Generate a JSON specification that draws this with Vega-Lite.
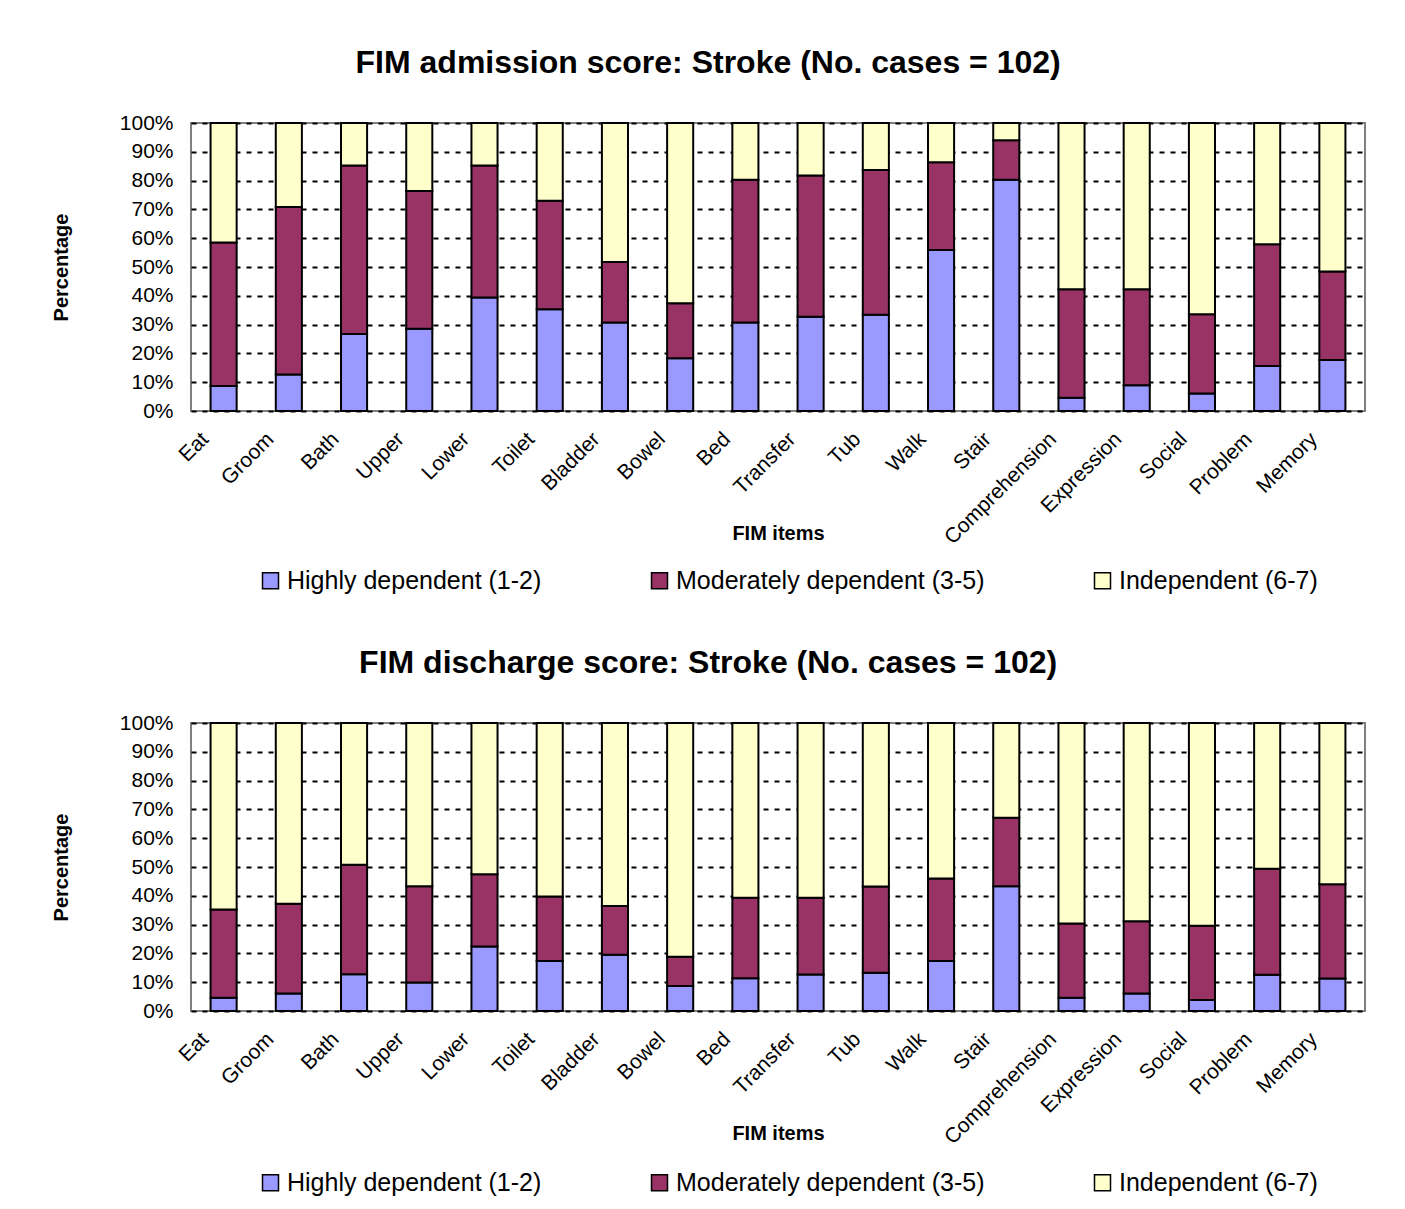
{
  "$schema": "https://vega.github.io/schema/vega-lite/v6.json",
  "background": "white",
  "padding": {"left": 50, "top": 46, "right": 30, "bottom": 5},
  "config": {
    "font": "Liberation Sans",
    "view": {"stroke": "#808080", "strokeWidth": 2},
    "axis": {"domain": false, "ticks": false, "labelColor": "black", "titleColor": "black", "labelFont": "Liberation Sans", "titleFont": "Liberation Sans"},
    "legend": {"labelFont": "Liberation Sans"},
    "title": {"font": "Liberation Sans", "color": "black"}
  },
  "data": {"values": [
    {"panel": "A", "item": "Eat", "cat": "Highly dependent (1-2)", "k": 1, "pct": 8.7},
    {"panel": "A", "item": "Eat", "cat": "Moderately dependent (3-5)", "k": 2, "pct": 49.8},
    {"panel": "A", "item": "Eat", "cat": "Independent (6-7)", "k": 3, "pct": 41.5},
    {"panel": "A", "item": "Groom", "cat": "Highly dependent (1-2)", "k": 1, "pct": 12.7},
    {"panel": "A", "item": "Groom", "cat": "Moderately dependent (3-5)", "k": 2, "pct": 58.1},
    {"panel": "A", "item": "Groom", "cat": "Independent (6-7)", "k": 3, "pct": 29.2},
    {"panel": "A", "item": "Bath", "cat": "Highly dependent (1-2)", "k": 1, "pct": 26.7},
    {"panel": "A", "item": "Bath", "cat": "Moderately dependent (3-5)", "k": 2, "pct": 58.5},
    {"panel": "A", "item": "Bath", "cat": "Independent (6-7)", "k": 3, "pct": 14.8},
    {"panel": "A", "item": "Upper", "cat": "Highly dependent (1-2)", "k": 1, "pct": 28.6},
    {"panel": "A", "item": "Upper", "cat": "Moderately dependent (3-5)", "k": 2, "pct": 47.8},
    {"panel": "A", "item": "Upper", "cat": "Independent (6-7)", "k": 3, "pct": 23.6},
    {"panel": "A", "item": "Lower", "cat": "Highly dependent (1-2)", "k": 1, "pct": 39.4},
    {"panel": "A", "item": "Lower", "cat": "Moderately dependent (3-5)", "k": 2, "pct": 45.8},
    {"panel": "A", "item": "Lower", "cat": "Independent (6-7)", "k": 3, "pct": 14.8},
    {"panel": "A", "item": "Toilet", "cat": "Highly dependent (1-2)", "k": 1, "pct": 35.3},
    {"panel": "A", "item": "Toilet", "cat": "Moderately dependent (3-5)", "k": 2, "pct": 37.7},
    {"panel": "A", "item": "Toilet", "cat": "Independent (6-7)", "k": 3, "pct": 27.0},
    {"panel": "A", "item": "Bladder", "cat": "Highly dependent (1-2)", "k": 1, "pct": 30.7},
    {"panel": "A", "item": "Bladder", "cat": "Moderately dependent (3-5)", "k": 2, "pct": 21.0},
    {"panel": "A", "item": "Bladder", "cat": "Independent (6-7)", "k": 3, "pct": 48.3},
    {"panel": "A", "item": "Bowel", "cat": "Highly dependent (1-2)", "k": 1, "pct": 18.3},
    {"panel": "A", "item": "Bowel", "cat": "Moderately dependent (3-5)", "k": 2, "pct": 19.1},
    {"panel": "A", "item": "Bowel", "cat": "Independent (6-7)", "k": 3, "pct": 62.6},
    {"panel": "A", "item": "Bed", "cat": "Highly dependent (1-2)", "k": 1, "pct": 30.7},
    {"panel": "A", "item": "Bed", "cat": "Moderately dependent (3-5)", "k": 2, "pct": 49.6},
    {"panel": "A", "item": "Bed", "cat": "Independent (6-7)", "k": 3, "pct": 19.7},
    {"panel": "A", "item": "Transfer", "cat": "Highly dependent (1-2)", "k": 1, "pct": 32.7},
    {"panel": "A", "item": "Transfer", "cat": "Moderately dependent (3-5)", "k": 2, "pct": 49.1},
    {"panel": "A", "item": "Transfer", "cat": "Independent (6-7)", "k": 3, "pct": 18.2},
    {"panel": "A", "item": "Tub", "cat": "Highly dependent (1-2)", "k": 1, "pct": 33.4},
    {"panel": "A", "item": "Tub", "cat": "Moderately dependent (3-5)", "k": 2, "pct": 50.3},
    {"panel": "A", "item": "Tub", "cat": "Independent (6-7)", "k": 3, "pct": 16.3},
    {"panel": "A", "item": "Walk", "cat": "Highly dependent (1-2)", "k": 1, "pct": 55.9},
    {"panel": "A", "item": "Walk", "cat": "Moderately dependent (3-5)", "k": 2, "pct": 30.5},
    {"panel": "A", "item": "Walk", "cat": "Independent (6-7)", "k": 3, "pct": 13.6},
    {"panel": "A", "item": "Stair", "cat": "Highly dependent (1-2)", "k": 1, "pct": 80.3},
    {"panel": "A", "item": "Stair", "cat": "Moderately dependent (3-5)", "k": 2, "pct": 13.7},
    {"panel": "A", "item": "Stair", "cat": "Independent (6-7)", "k": 3, "pct": 6.0},
    {"panel": "A", "item": "Comprehension", "cat": "Highly dependent (1-2)", "k": 1, "pct": 4.6},
    {"panel": "A", "item": "Comprehension", "cat": "Moderately dependent (3-5)", "k": 2, "pct": 37.7},
    {"panel": "A", "item": "Comprehension", "cat": "Independent (6-7)", "k": 3, "pct": 57.7},
    {"panel": "A", "item": "Expression", "cat": "Highly dependent (1-2)", "k": 1, "pct": 8.9},
    {"panel": "A", "item": "Expression", "cat": "Moderately dependent (3-5)", "k": 2, "pct": 33.4},
    {"panel": "A", "item": "Expression", "cat": "Independent (6-7)", "k": 3, "pct": 57.7},
    {"panel": "A", "item": "Social", "cat": "Highly dependent (1-2)", "k": 1, "pct": 6.1},
    {"panel": "A", "item": "Social", "cat": "Moderately dependent (3-5)", "k": 2, "pct": 27.5},
    {"panel": "A", "item": "Social", "cat": "Independent (6-7)", "k": 3, "pct": 66.4},
    {"panel": "A", "item": "Problem", "cat": "Highly dependent (1-2)", "k": 1, "pct": 15.6},
    {"panel": "A", "item": "Problem", "cat": "Moderately dependent (3-5)", "k": 2, "pct": 42.3},
    {"panel": "A", "item": "Problem", "cat": "Independent (6-7)", "k": 3, "pct": 42.1},
    {"panel": "A", "item": "Memory", "cat": "Highly dependent (1-2)", "k": 1, "pct": 17.7},
    {"panel": "A", "item": "Memory", "cat": "Moderately dependent (3-5)", "k": 2, "pct": 30.7},
    {"panel": "A", "item": "Memory", "cat": "Independent (6-7)", "k": 3, "pct": 51.6},
    {"panel": "D", "item": "Eat", "cat": "Highly dependent (1-2)", "k": 1, "pct": 4.6},
    {"panel": "D", "item": "Eat", "cat": "Moderately dependent (3-5)", "k": 2, "pct": 30.6},
    {"panel": "D", "item": "Eat", "cat": "Independent (6-7)", "k": 3, "pct": 64.8},
    {"panel": "D", "item": "Groom", "cat": "Highly dependent (1-2)", "k": 1, "pct": 6.1},
    {"panel": "D", "item": "Groom", "cat": "Moderately dependent (3-5)", "k": 2, "pct": 31.1},
    {"panel": "D", "item": "Groom", "cat": "Independent (6-7)", "k": 3, "pct": 62.8},
    {"panel": "D", "item": "Bath", "cat": "Highly dependent (1-2)", "k": 1, "pct": 12.8},
    {"panel": "D", "item": "Bath", "cat": "Moderately dependent (3-5)", "k": 2, "pct": 38.0},
    {"panel": "D", "item": "Bath", "cat": "Independent (6-7)", "k": 3, "pct": 49.2},
    {"panel": "D", "item": "Upper", "cat": "Highly dependent (1-2)", "k": 1, "pct": 9.9},
    {"panel": "D", "item": "Upper", "cat": "Moderately dependent (3-5)", "k": 2, "pct": 33.4},
    {"panel": "D", "item": "Upper", "cat": "Independent (6-7)", "k": 3, "pct": 56.7},
    {"panel": "D", "item": "Lower", "cat": "Highly dependent (1-2)", "k": 1, "pct": 22.4},
    {"panel": "D", "item": "Lower", "cat": "Moderately dependent (3-5)", "k": 2, "pct": 25.1},
    {"panel": "D", "item": "Lower", "cat": "Independent (6-7)", "k": 3, "pct": 52.5},
    {"panel": "D", "item": "Toilet", "cat": "Highly dependent (1-2)", "k": 1, "pct": 17.4},
    {"panel": "D", "item": "Toilet", "cat": "Moderately dependent (3-5)", "k": 2, "pct": 22.4},
    {"panel": "D", "item": "Toilet", "cat": "Independent (6-7)", "k": 3, "pct": 60.2},
    {"panel": "D", "item": "Bladder", "cat": "Highly dependent (1-2)", "k": 1, "pct": 19.5},
    {"panel": "D", "item": "Bladder", "cat": "Moderately dependent (3-5)", "k": 2, "pct": 17.0},
    {"panel": "D", "item": "Bladder", "cat": "Independent (6-7)", "k": 3, "pct": 63.5},
    {"panel": "D", "item": "Bowel", "cat": "Highly dependent (1-2)", "k": 1, "pct": 8.7},
    {"panel": "D", "item": "Bowel", "cat": "Moderately dependent (3-5)", "k": 2, "pct": 10.1},
    {"panel": "D", "item": "Bowel", "cat": "Independent (6-7)", "k": 3, "pct": 81.2},
    {"panel": "D", "item": "Bed", "cat": "Highly dependent (1-2)", "k": 1, "pct": 11.4},
    {"panel": "D", "item": "Bed", "cat": "Moderately dependent (3-5)", "k": 2, "pct": 27.9},
    {"panel": "D", "item": "Bed", "cat": "Independent (6-7)", "k": 3, "pct": 60.7},
    {"panel": "D", "item": "Transfer", "cat": "Highly dependent (1-2)", "k": 1, "pct": 12.7},
    {"panel": "D", "item": "Transfer", "cat": "Moderately dependent (3-5)", "k": 2, "pct": 26.6},
    {"panel": "D", "item": "Transfer", "cat": "Independent (6-7)", "k": 3, "pct": 60.7},
    {"panel": "D", "item": "Tub", "cat": "Highly dependent (1-2)", "k": 1, "pct": 13.3},
    {"panel": "D", "item": "Tub", "cat": "Moderately dependent (3-5)", "k": 2, "pct": 29.9},
    {"panel": "D", "item": "Tub", "cat": "Independent (6-7)", "k": 3, "pct": 56.8},
    {"panel": "D", "item": "Walk", "cat": "Highly dependent (1-2)", "k": 1, "pct": 17.4},
    {"panel": "D", "item": "Walk", "cat": "Moderately dependent (3-5)", "k": 2, "pct": 28.6},
    {"panel": "D", "item": "Walk", "cat": "Independent (6-7)", "k": 3, "pct": 54.0},
    {"panel": "D", "item": "Stair", "cat": "Highly dependent (1-2)", "k": 1, "pct": 43.3},
    {"panel": "D", "item": "Stair", "cat": "Moderately dependent (3-5)", "k": 2, "pct": 23.8},
    {"panel": "D", "item": "Stair", "cat": "Independent (6-7)", "k": 3, "pct": 32.9},
    {"panel": "D", "item": "Comprehension", "cat": "Highly dependent (1-2)", "k": 1, "pct": 4.6},
    {"panel": "D", "item": "Comprehension", "cat": "Moderately dependent (3-5)", "k": 2, "pct": 25.8},
    {"panel": "D", "item": "Comprehension", "cat": "Independent (6-7)", "k": 3, "pct": 69.6},
    {"panel": "D", "item": "Expression", "cat": "Highly dependent (1-2)", "k": 1, "pct": 6.1},
    {"panel": "D", "item": "Expression", "cat": "Moderately dependent (3-5)", "k": 2, "pct": 25.1},
    {"panel": "D", "item": "Expression", "cat": "Independent (6-7)", "k": 3, "pct": 68.8},
    {"panel": "D", "item": "Social", "cat": "Highly dependent (1-2)", "k": 1, "pct": 3.8},
    {"panel": "D", "item": "Social", "cat": "Moderately dependent (3-5)", "k": 2, "pct": 25.8},
    {"panel": "D", "item": "Social", "cat": "Independent (6-7)", "k": 3, "pct": 70.4},
    {"panel": "D", "item": "Problem", "cat": "Highly dependent (1-2)", "k": 1, "pct": 12.6},
    {"panel": "D", "item": "Problem", "cat": "Moderately dependent (3-5)", "k": 2, "pct": 36.8},
    {"panel": "D", "item": "Problem", "cat": "Independent (6-7)", "k": 3, "pct": 50.6},
    {"panel": "D", "item": "Memory", "cat": "Highly dependent (1-2)", "k": 1, "pct": 11.3},
    {"panel": "D", "item": "Memory", "cat": "Moderately dependent (3-5)", "k": 2, "pct": 32.7},
    {"panel": "D", "item": "Memory", "cat": "Independent (6-7)", "k": 3, "pct": 56.0}
  ]},
  "spacing": 51,
  "resolve": {"scale": {"color": "independent"}, "legend": {"color": "independent"}},
  "vconcat": [
    {
      "width": 1174, "height": 288,
      "title": {"text": "FIM admission score: Stroke (No. cases = 102)", "fontSize": 32, "fontWeight": "bold", "offset": 32, "anchor": "middle", "frame": "bounds"},
      "transform": [{"filter": "datum.panel == 'A'"}],
      "mark": {"type": "bar", "stroke": "black", "strokeWidth": 2},
      "encoding": {
        "x": {"field": "item", "type": "nominal",
          "sort": ["Eat","Groom","Bath","Upper","Lower","Toilet","Bladder","Bowel","Bed","Transfer","Tub","Walk","Stair","Comprehension","Expression","Social","Problem","Memory"],
          "scale": {"paddingInner": 0.6, "paddingOuter": 0.3},
          "axis": {"title": "FIM items", "titleFontSize": 20, "titleFontWeight": "bold", "titleY": 122, "titleBaseline": "middle", "labelAngle": -45, "labelFontSize": 21, "labelPadding": 17, "labelOffset": -26, "grid": false}},
        "y": {"field": "pct", "type": "quantitative", "stack": "zero",
          "scale": {"domain": [0, 100], "nice": false},
          "axis": {"title": "Percentage", "titleFontSize": 20, "titleFontWeight": "bold", "titlePadding": 48, "values": [0,10,20,30,40,50,60,70,80,90,100], "labelExpr": "datum.value + '%'", "labelFontSize": 21, "labelPadding": 18, "grid": true, "gridColor": "black", "gridWidth": 2, "gridDash": [5, 6]}},
        "color": {"field": "cat", "type": "nominal",
          "scale": {"domain": ["Highly dependent (1-2)", "Moderately dependent (3-5)", "Independent (6-7)"], "range": ["#9999FF", "#993366", "#FFFFCC"]},
          "legend": {"title": null, "orient": "none", "legendX": 67, "legendY": 445, "direction": "horizontal", "columns": 3, "columnPadding": 105, "symbolType": "square", "symbolSize": 256, "symbolStrokeColor": "black", "symbolStrokeWidth": 1.5, "labelFontSize": 25, "labelLimit": 500, "labelOffset": 4, "symbolOpacity": 1}},
        "order": {"field": "k", "type": "quantitative"}
      }
    },
    {
      "width": 1174, "height": 288,
      "title": {"text": "FIM discharge score: Stroke (No. cases = 102)", "fontSize": 32, "fontWeight": "bold", "offset": 32, "anchor": "middle", "frame": "bounds"},
      "transform": [{"filter": "datum.panel == 'D'"}],
      "mark": {"type": "bar", "stroke": "black", "strokeWidth": 2},
      "encoding": {
        "x": {"field": "item", "type": "nominal",
          "sort": ["Eat","Groom","Bath","Upper","Lower","Toilet","Bladder","Bowel","Bed","Transfer","Tub","Walk","Stair","Comprehension","Expression","Social","Problem","Memory"],
          "scale": {"paddingInner": 0.6, "paddingOuter": 0.3},
          "axis": {"title": "FIM items", "titleFontSize": 20, "titleFontWeight": "bold", "titleY": 122, "titleBaseline": "middle", "labelAngle": -45, "labelFontSize": 21, "labelPadding": 17, "labelOffset": -26, "grid": false}},
        "y": {"field": "pct", "type": "quantitative", "stack": "zero",
          "scale": {"domain": [0, 100], "nice": false},
          "axis": {"title": "Percentage", "titleFontSize": 20, "titleFontWeight": "bold", "titlePadding": 48, "values": [0,10,20,30,40,50,60,70,80,90,100], "labelExpr": "datum.value + '%'", "labelFontSize": 21, "labelPadding": 18, "grid": true, "gridColor": "black", "gridWidth": 2, "gridDash": [5, 6]}},
        "color": {"field": "cat", "type": "nominal",
          "scale": {"domain": ["Highly dependent (1-2)", "Moderately dependent (3-5)", "Independent (6-7)"], "range": ["#9999FF", "#993366", "#FFFFCC"]},
          "legend": {"title": null, "orient": "none", "legendX": 67, "legendY": 447, "direction": "horizontal", "columns": 3, "columnPadding": 105, "symbolType": "square", "symbolSize": 256, "symbolStrokeColor": "black", "symbolStrokeWidth": 1.5, "labelFontSize": 25, "labelLimit": 500, "labelOffset": 4, "symbolOpacity": 1}},
        "order": {"field": "k", "type": "quantitative"}
      }
    }
  ]
}
